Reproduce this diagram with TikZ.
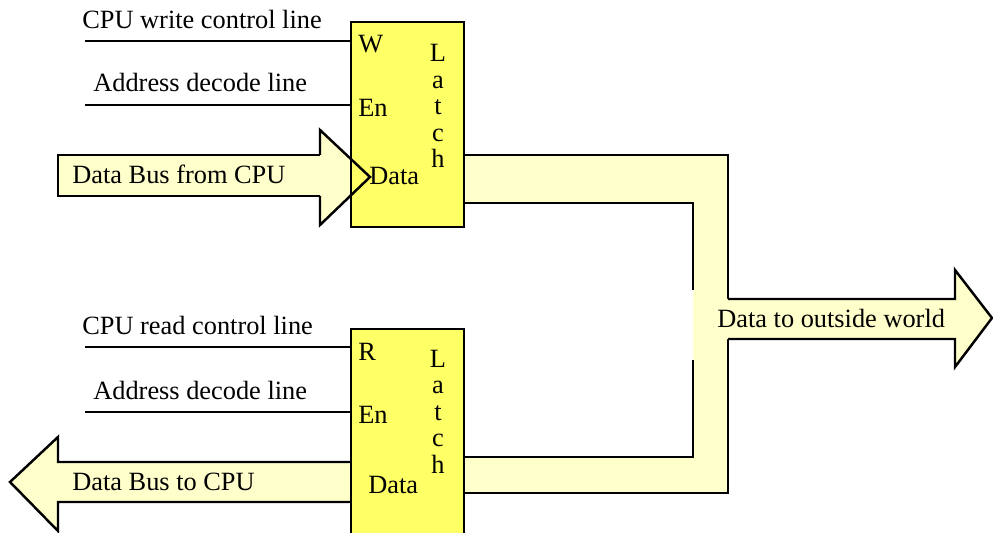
\documentclass[tikz,border=0pt]{standalone}
\usepackage{fontspec}
\setmainfont{Liberation Serif}
\usepackage{xcolor}
\usetikzlibrary{positioning}
\definecolor{latchfill}{HTML}{FFFF66}
\definecolor{busfill}{HTML}{FFFFCC}

\begin{document}
\begin{tikzpicture}[x=0.02cm, y=-0.02cm,
    every node/.style={inner sep=0pt, font=\fontsize{15}{15}\selectfont},
    txt/.style={anchor=base west},
    latch/.style={draw, fill=latchfill, line width=1.5pt, minimum width=2.26cm},
    busline/.style={line width=1.4pt, line join=miter},
    ctrl/.style={line width=1.2pt}
]
\clip (0,0) rectangle (993,533);

% ---- Bus de salida (forma en U) ----
\fill[busfill] (463,155) -- (728,155) -- (728,493) -- (463,493) -- (463,457)
  -- (693,457) -- (693,203) -- (463,203) -- cycle;
\draw[busline] (464,155) -- (728,155) -- (728,299);
\draw[busline] (728,339) -- (728,493) -- (464,493);
\draw[busline] (464,457) -- (693,457) -- (693,360);
\draw[busline] (693,290) -- (693,203) -- (464,203);

% ---- Flecha hacia afuera ----
\fill[busfill] (693,299) -- (955,299) -- (955,270) -- (992,318) -- (955,367)
  -- (955,339) -- (693,339) -- cycle;
\draw[busline] (728,299) -- (955,299) -- (955,270) -- (992,318) -- (955,367)
  -- (955,339) -- (728,339);
\node[txt] (outW) at (717,327) {Data to outside world};

% ---- Bus de datos (entrada y salida CPU) ----
\fill[busfill] (58,155) -- (320,155) -- (320,130) -- (370,177) -- (320,225)
  -- (320,196) -- (58,196) -- cycle;
\filldraw[busline, fill=busfill] (351,462) -- (58,462) -- (58,437) -- (10,482)
  -- (58,531) -- (58,502) -- (351,502);

% ---- Latches ----
\node[latch, minimum height=4.1cm] (latchW) at (407.5,124.5) {};
\node[latch, minimum height=4.32cm] (latchR) at (407.5,437) {};

\draw[busline] (320,155) -- (58,155) -- (58,196) -- (320,196);
\draw[busline] (320,155) -- (320,130) -- (370,177) -- (320,225) -- (320,196);

\foreach \c [count=\i from 0] in {L,a,t,c,h} {
  \node[anchor=base] (lw\i) at (438,62+26.5*\i) {\c};
  \node[anchor=base] (lr\i) at (438,367+26.5*\i) {\c};
}

% Entradas del latch de escritura
\coordinate (wIn) at (85,41);
\coordinate (enIn) at (85,105);
\draw[ctrl] (wIn) -- (wIn -| latchW.west);
\draw[ctrl] (enIn) -- (enIn -| latchW.west);
\node[txt] (wTxt) at (82,29) {CPU write control line};
\node[txt] (enTxt) at (93,92) {Address decode line};
\node[txt] (wLbl) at (358,53) {W};
\node[txt] (enLbl) at (358,117) {En};
\node[txt] (dLbl) at (369,185) {Data};
\node[txt] (busIn) at (72,184) {Data Bus from CPU};

% Entradas del latch de lectura
\coordinate (rIn) at (85,347);
\coordinate (en2In) at (85,412);
\draw[ctrl] (rIn) -- (rIn -| latchR.west);
\draw[ctrl] (en2In) -- (en2In -| latchR.west);
\node[txt] (rTxt) at (82,335) {CPU read control line};
\node[txt] (en2Txt) at (93,399) {Address decode line};
\node[txt] (rLbl) at (358,360) {R};
\node[txt] (en2Lbl) at (358,423) {En};
\node[txt] (d2Lbl) at (368,493) {Data};
\node[txt] (busOut) at (72,490) {Data Bus to CPU};

\end{tikzpicture}
\end{document}
